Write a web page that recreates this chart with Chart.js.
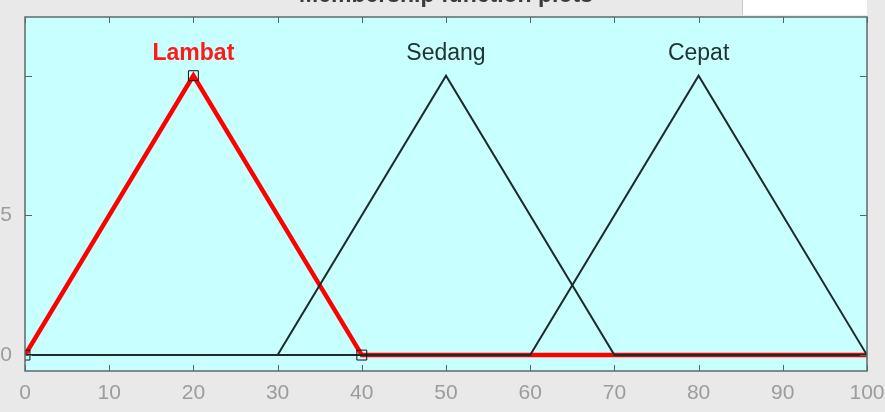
<!DOCTYPE html>
<html>
<head>
<meta charset="utf-8">
<script src="https://cdn.jsdelivr.net/npm/chart.js@4.4.1/dist/chart.umd.min.js"></script>
<style>
  html, body { margin: 0; padding: 0; background: #e9e9e9; overflow: hidden; }
  #wrap { width: 885px; height: 412px; position: relative; }
</style>
</head>
<body>
<div id="wrap"><canvas id="mf-plot" width="885" height="412"></canvas></div>
<script>
// membership functions
let x_ticks = [0, 10, 20, 30, 40, 50, 60, 70, 80, 90, 100]
let y_ticks = [0, 0.5, 1]
let y_tick_labels = ['0', '0.5', '']

let mf_names = ['Lambat', 'Sedang', 'Cepat']
let mf_peaks = [20, 50, 80]

let lambat_x = [0, 20, 40, 100]
let lambat_y = [0, 1, 0, 0]
let sedang_x = [0, 30, 50, 70, 100]
let sedang_y = [0, 0, 1, 0, 0]
let cepat_x = [0, 60, 80, 100]
let cepat_y = [0, 0, 1, 0]

// vertices of the selected mf (square markers)
let marker_x = [0, 20, 40]
let marker_y = [0, 1, 0]

let plot_title = 'Membership function plots'

function to_points(xs, ys) {
    return xs.map((x, i) => ({x: x, y: ys[i]}))
}

let mf_decor = {
    id: 'mf_decor',
    beforeDraw(chart) {
        let ctx = chart.ctx
        let a = chart.chartArea
        ctx.save()
        ctx.fillStyle = '#e9e9e9'
        ctx.fillRect(0, 0, chart.width, chart.height)
        // white panel at the top right
        ctx.fillStyle = '#ffffff'
        ctx.fillRect(743, 0, a.right - 743, a.top - 2)
        ctx.strokeStyle = '#c8c8c8'
        ctx.lineWidth = 1
        ctx.beginPath()
        ctx.moveTo(742.5, 0)
        ctx.lineTo(742.5, a.top - 2)
        ctx.stroke()
        // cropped title
        ctx.fillStyle = '#3a3a3a'
        ctx.font = 'bold 23px "Liberation Sans", Arial, sans-serif'
        ctx.textAlign = 'center'
        ctx.textBaseline = 'alphabetic'
        ctx.fillText(plot_title, (a.left + a.right) / 2, 2)
        // axes background
        ctx.fillStyle = '#c8ffff'
        ctx.fillRect(a.left, a.top, a.right - a.left, a.bottom - a.top)
        ctx.restore()
    },
    afterDraw(chart) {
        let ctx = chart.ctx
        let a = chart.chartArea
        let xs = chart.scales.x
        let ys = chart.scales.y
        ctx.save()
        // inward ticks
        ctx.strokeStyle = '#5a6464'
        ctx.lineWidth = 1
        ctx.beginPath()
        x_ticks.forEach(v => {
            let px = Math.round(xs.getPixelForValue(v)) + 0.5
            ctx.moveTo(px, a.bottom); ctx.lineTo(px, a.bottom - 6)
            ctx.moveTo(px, a.top); ctx.lineTo(px, a.top + 6)
        })
        y_ticks.forEach(v => {
            let py = Math.round(ys.getPixelForValue(v)) + 0.5
            ctx.moveTo(a.left, py); ctx.lineTo(a.left + 7, py)
            ctx.moveTo(a.right, py); ctx.lineTo(a.right - 7, py)
        })
        ctx.stroke()
        // box
        ctx.strokeStyle = '#5f6a6a'
        ctx.lineWidth = 1.5
        ctx.strokeRect(a.left, a.top, a.right - a.left, a.bottom - a.top)
        // mf names above the peaks
        ctx.textAlign = 'center'
        ctx.textBaseline = 'middle'
        mf_names.forEach((name, i) => {
            ctx.font = (i === 0 ? 'bold ' : '') + '23px "Liberation Sans", Arial, sans-serif'
            ctx.fillStyle = i === 0 ? '#ff1a1a' : '#223333'
            ctx.fillText(name, xs.getPixelForValue(mf_peaks[i]), ys.getPixelForValue(1.08))
        })
        ctx.restore()
    }
}

document.addEventListener('DOMContentLoaded', () => {
    Chart.defaults.font.family = '"Liberation Sans", Arial, sans-serif'
    Chart.defaults.plugins.legend.display = false
    Chart.defaults.plugins.tooltip.enabled = false

    let ctx = document.getElementById('mf-plot')
    new Chart(ctx, {
        type: 'scatter',
        data: {
            datasets: [
                {
                    label: 'markers',
                    data: to_points(marker_x, marker_y),
                    showLine: false,
                    pointStyle: 'rect',
                    pointRadius: 7,
                    pointBorderColor: '#111111',
                    pointBackgroundColor: 'rgba(0,0,0,0)',
                    pointBorderWidth: 1,
                    order: 0
                },
                {
                    label: mf_names[2],
                    data: to_points(cepat_x, cepat_y),
                    showLine: true,
                    borderColor: '#1b2a2a',
                    borderWidth: 2,
                    pointRadius: 0,
                    borderJoinStyle: 'miter',
                    order: 1
                },
                {
                    label: mf_names[1],
                    data: to_points(sedang_x, sedang_y),
                    showLine: true,
                    borderColor: '#1b2a2a',
                    borderWidth: 2,
                    pointRadius: 0,
                    borderJoinStyle: 'miter',
                    order: 2
                },
                {
                    label: mf_names[0],
                    data: to_points(lambat_x, lambat_y),
                    showLine: true,
                    borderColor: '#ff0000',
                    borderWidth: 4.5,
                    pointRadius: 0,
                    borderJoinStyle: 'miter',
                    order: 3
                }
            ]
        },
        options: {
            responsive: false,
            animation: false,
            events: [],
            layout: {padding: {top: 17, right: 18, left: 0, bottom: 0}},
            scales: {
                x: {
                    type: 'linear',
                    min: 0,
                    max: 100,
                    afterFit: (s) => {
                        s.height = 41
                        s.paddingLeft = 0
                        s.paddingRight = 0
                    },
                    afterBuildTicks: (s) => { s.ticks = x_ticks.map(v => ({value: v})) },
                    grid: {display: false, drawTicks: false},
                    border: {display: false},
                    ticks: {color: '#9c9c9c', font: {size: 21}, padding: 10, maxRotation: 0, autoSkip: false}
                },
                y: {
                    type: 'linear',
                    min: -0.057,
                    max: 1.21,
                    afterFit: (s) => {
                        s.width = 25
                        s.paddingTop = 0
                        s.paddingBottom = 0
                    },
                    afterBuildTicks: (s) => { s.ticks = y_ticks.map(v => ({value: v})) },
                    grid: {display: false, drawTicks: false},
                    border: {display: false},
                    ticks: {
                        color: '#9c9c9c', font: {size: 21}, padding: 13,
                        callback: (v) => y_tick_labels[y_ticks.indexOf(v)]
                    }
                }
            }
        },
        plugins: [mf_decor]
    })
})
</script>
</body>
</html>
